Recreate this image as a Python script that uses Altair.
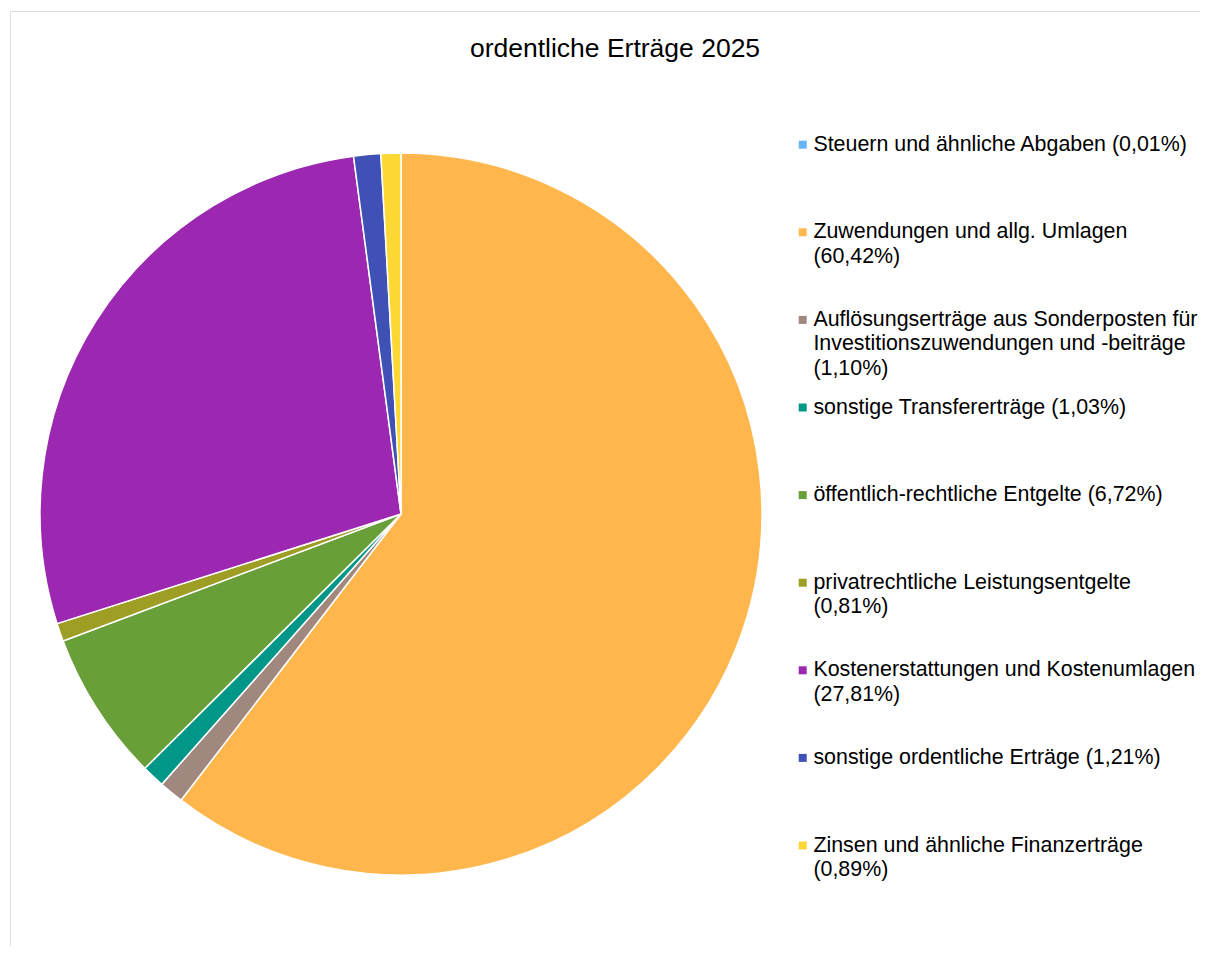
import altair as alt
import pandas as pd

categories = [
    "Steuern und ähnliche Abgaben",
    "Zuwendungen und allg. Umlagen",
    "Auflösungserträge aus Sonderposten für Investitionszuwendungen und -beiträge",
    "sonstige Transfererträge",
    "öffentlich-rechtliche Entgelte",
    "privatrechtliche Leistungsentgelte",
    "Kostenerstattungen und Kostenumlagen",
    "sonstige ordentliche Erträge",
    "Zinsen und ähnliche Finanzerträge",
]
shares = [0.01, 60.42, 1.10, 1.03, 6.72, 0.81, 27.81, 1.21, 0.89]
legend_labels = [
    "Steuern und ähnliche Abgaben (0,01%)",
    "Zuwendungen und allg. Umlagen|(60,42%)",
    "Auflösungserträge aus Sonderposten für|Investitionszuwendungen und -beiträge|(1,10%)",
    "sonstige Transfererträge (1,03%)",
    "öffentlich-rechtliche Entgelte (6,72%)",
    "privatrechtliche Leistungsentgelte|(0,81%)",
    "Kostenerstattungen und Kostenumlagen|(27,81%)",
    "sonstige ordentliche Erträge (1,21%)",
    "Zinsen und ähnliche Finanzerträge|(0,89%)",
]
colors = ["#64b5f6", "#ffb74d", "#a1887f", "#009688", "#689f38",
          "#9e9d24", "#9c27b0", "#3f51b5", "#fdd835"]

df = pd.DataFrame({
    "idx": list(range(len(categories))),
    "Kategorie": categories,
    "Anteil": shares,
    "legend": legend_labels,
})

FONT = "Liberation Sans"

chart = (
    alt.Chart(df)
    .mark_arc(outerRadius=361, stroke="white", strokeWidth=1.5)
    .encode(
        theta=alt.Theta("Anteil:Q", stack=True),
        order=alt.Order("idx:O"),
        x=alt.value(391),
        y=alt.value(503),
        color=alt.Color(
            "legend:N",
            scale=alt.Scale(domain=legend_labels, range=colors),
            legend=alt.Legend(
                title=None,
                orient="none",
                legendX=782,
                legendY=123,
                symbolType="square",
                symbolSize=64,
                symbolStrokeWidth=0,
                labelFont=FONT,
                labelFontSize=21.4,
                labelColor="black",
                labelLimit=700,
                labelOffset=0,
                labelExpr="split(datum.label, '|')",
                gridAlign="all",
                rowPadding=15.6,
                padding=0,
            ),
        ),
        tooltip=["Kategorie:N", "Anteil:Q"],
    )
    .properties(
        width=1190,
        height=935,
        padding={"left": 2, "top": 3, "right": 0, "bottom": 0},
        autosize=alt.AutoSizeParams(type="none"),
        title=alt.TitleParams(
            "ordentliche Erträge 2025",
            font=FONT,
            fontSize=26.5,
            fontWeight="normal",
            color="black",
            anchor="middle",
            baseline="alphabetic",
            offset=-72,
            dx=10,
        ),
    )
    .configure_view(stroke="#d9d9d9", strokeWidth=1)
    .configure(background="white", style={"guide-label": {"lineHeight": 24.5}})
)

chart.save("out.html", embed_options={"renderer": "svg", "actions": False})
